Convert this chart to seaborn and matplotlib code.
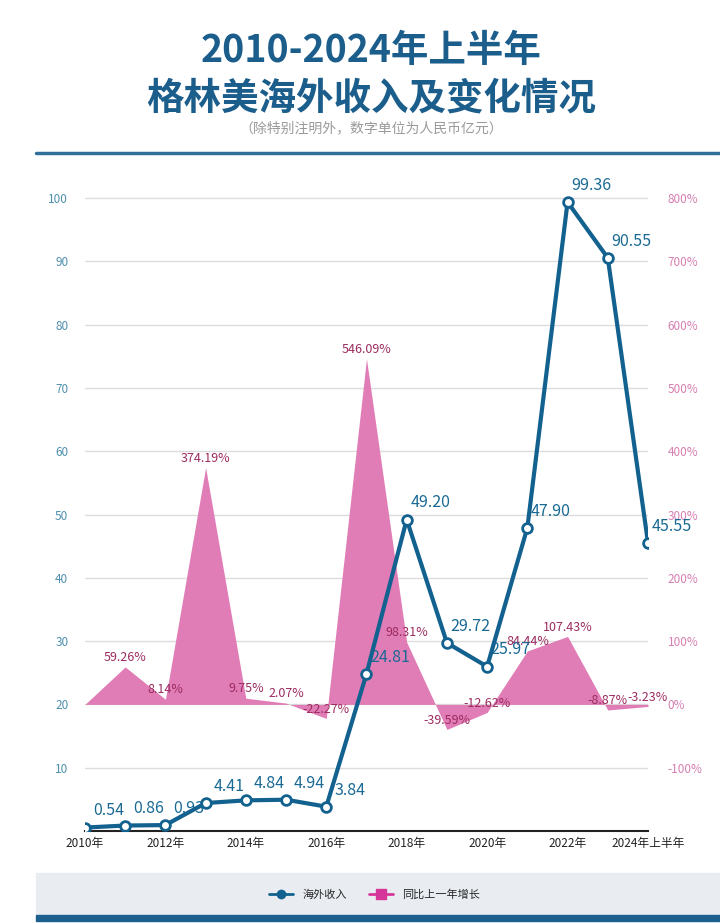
import pandas as pd
import matplotlib.pyplot as plt
import matplotlib.patches as mpatches
from matplotlib.lines import Line2D
import seaborn as sns

# 数据（亿元）
years = ['2010', '2011', '2012', '2013', '2014', '2015', '2016', '2017',
         '2018', '2019', '2020', '2021', '2022', '2023', '2024H1']
income = [0.54, 0.86, 0.93, 4.41, 4.84, 4.94, 3.84, 24.81,
          49.20, 29.72, 25.97, 47.90, 99.36, 90.55, 45.55]
growth = [0, 59.26, 8.14, 374.19, 9.75, 2.07, -22.27, 546.09,
          98.31, -39.59, -12.62, 84.44, 107.43, -8.87, -3.23]
tick_labels = ['2010年', '2012年', '2014年', '2016年', '2018年', '2020年', '2022年', '2024年上半年']

df = pd.DataFrame({'year': years, 'income': income, 'growth': growth})
df['idx'] = range(len(df))

sns.set_theme(style='white')
plt.rcParams['font.family'] = ['Noto Sans CJK SC', 'DejaVu Sans']

blue = '#12618f'
pink = '#e07db6'
pink_txt = '#9c2b5f'

fig = plt.figure(figsize=(7.2, 9.23), dpi=100)

# 标题
fig.text(0.516, 0.945, '2010-2024年上半年', ha='center', va='center',
         fontsize=27, fontweight='black', color='#1b5e8c')
fig.text(0.516, 0.894, '格林美海外收入及变化情况', ha='center', va='center',
         fontsize=27, fontweight='black', color='#1b5e8c')
fig.text(0.516, 0.861, '（除特别注明外，数字单位为人民币亿元）', ha='center', va='center',
         fontsize=10, color='#9a9a9a')
fig.add_artist(Line2D([0.05, 1.0], [0.834, 0.834], color='#2f6f99', lw=2.5))

# 底部图例背景
fig.add_artist(mpatches.Rectangle((0.05, 0.009), 0.95, 0.045, color='#e9edf1', zorder=0))
fig.add_artist(mpatches.Rectangle((0.05, 0.002), 0.95, 0.007, color='#1d5f8f', zorder=0))

ax1 = fig.add_axes([0.118, 0.0997, 0.782, 0.72])
ax2 = ax1.twinx()
ax1.set_zorder(ax2.get_zorder() + 1)
ax1.patch.set_visible(False)

# 同比增长面积
ax2.fill_between(df['idx'], df['growth'], 0, color=pink, lw=0, zorder=2)
ax2.set_ylim(-200, 850)
ax2.set_yticks(range(-100, 801, 100))
ax2.set_yticklabels([f'{v}%' for v in range(-100, 801, 100)])
ax2.yaxis.grid(True, color='#dcdcdc', lw=1, zorder=0)
ax2.set_axisbelow(True)
for i, g in enumerate(growth[1:], start=1):
    ax2.annotate(f'{g:.2f}%', (i, g), xytext=(0, 2), textcoords='offset points',
                 ha='center', va='bottom', fontsize=9, color=pink_txt,
                 fontweight='medium', zorder=3)

# 海外收入折线
sns.lineplot(data=df, x='idx', y='income', ax=ax1, color=blue, lw=3, marker='o',
             markersize=7, markerfacecolor='white', markeredgecolor=blue,
             markeredgewidth=2, zorder=5)
for i, v in enumerate(income):
    ax1.annotate(f'{v:.2f}', (i, v), xytext=(17, 12), textcoords='offset points',
                 ha='center', va='center', fontsize=11.5, color='#1a6a94',
                 fontweight='medium', zorder=4)

ax1.set_xlim(0, 14)
ax1.set_ylim(0, 105)
ax1.set_yticks(range(10, 101, 10))
ax1.set_xticks(range(0, 15, 2))
ax1.set_xticklabels(tick_labels)
ax1.set_xlabel('')
ax1.set_ylabel('')

for ax in (ax1, ax2):
    for s in ax.spines.values():
        s.set_visible(False)
ax1.spines['bottom'].set_visible(True)
ax1.spines['bottom'].set_color('#222222')
ax1.spines['bottom'].set_linewidth(1.5)

ax1.tick_params(axis='y', colors='#4f8fae', labelsize=8.5, length=0, pad=12)
ax1.tick_params(axis='x', colors='#222222', labelsize=8.5, length=0, pad=4)
ax2.tick_params(axis='y', colors='#d77fb1', labelsize=8.5, length=0, pad=14)

handles = [
    Line2D([], [], color=blue, lw=2, marker='o', markersize=6, markerfacecolor=blue),
    Line2D([], [], color='#d6359a', lw=2, marker='s', markersize=7, markerfacecolor='#d6359a'),
]
fig.legend(handles, ['海外收入', '同比上一年增长'], loc='center', bbox_to_anchor=(0.52, 0.031),
           ncol=2, frameon=False, fontsize=8, handlelength=2.2, columnspacing=2.0)

plt.savefig('out.png', dpi=100)
